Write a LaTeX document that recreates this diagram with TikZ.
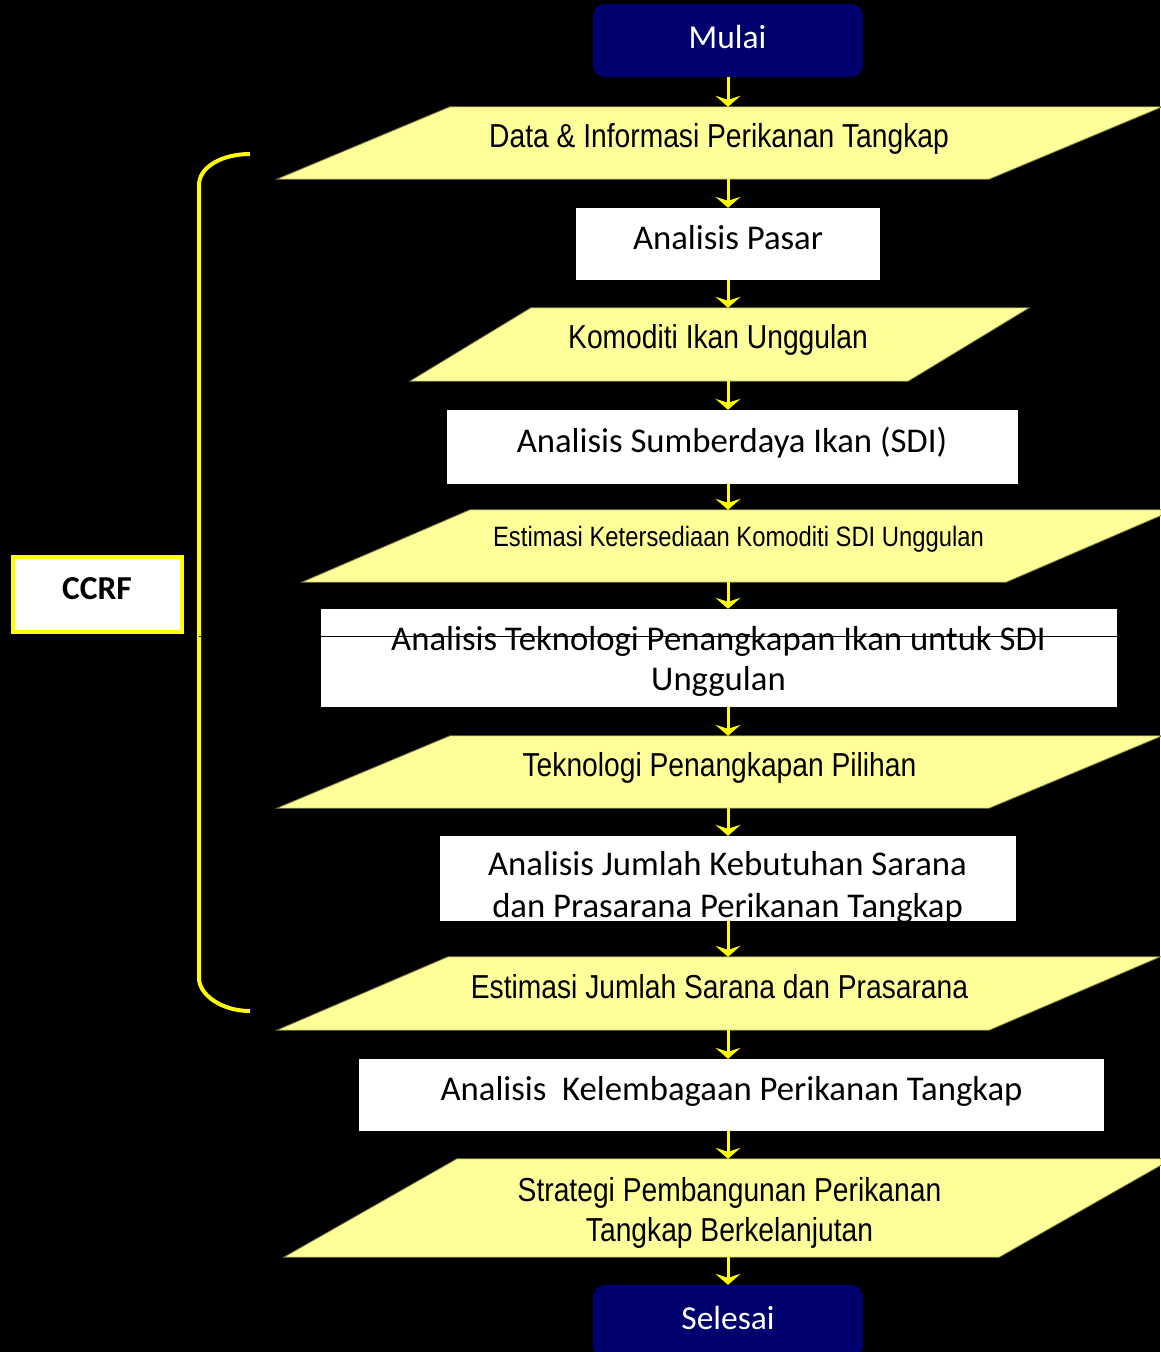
\documentclass[tikz,border=0pt]{standalone}
\usepackage{fontspec}
\setmainfont{Carlito}
\newfontfamily\narrowsans[FakeStretch=0.85]{Liberation Sans}
\usetikzlibrary{arrows.meta}
\definecolor{navyfill}{HTML}{00006E}
\definecolor{iofillc}{HTML}{FFFF99}
\definecolor{ioedge}{HTML}{7A7A40}
\definecolor{flowyellow}{HTML}{FFFF00}

% slanted fill for an input/output step: node name, slant in pt
\newcommand\iofillpath[2]{%
  \path[iofill] (#1.south west) -- ([xshift=-#2pt]#1.south east)
    -- (#1.north east) -- ([xshift=#2pt]#1.north west) -- cycle;}

\begin{document}
\begin{tikzpicture}[x=1pt,y=-1pt,
  terminal/.style={rectangle, rounded corners=12pt, fill=navyfill, inner sep=0pt},
  procbox/.style={rectangle, fill=white, inner sep=0pt},
  iobox/.style={rectangle, inner sep=0pt},
  iofill/.style={fill=iofillc, draw=ioedge, line width=0.8pt},
  lbl/.style={anchor=base, inner sep=0pt, text=black, font=\fontsize{34.7}{40}\selectfont},
  iolbl/.style={anchor=base, inner sep=0pt, text=black, font=\narrowsans\fontsize{33.2}{40}\selectfont},
  termlbl/.style={anchor=base, inner sep=0pt, text=white, font=\fontsize{33.5}{40}\selectfont},
  flow/.style={draw=flowyellow, line width=3pt, -{Stealth[length=11pt,width=25pt,inset=4pt]}},
]
\useasboundingbox (0,0) rectangle (1160,1352);
\fill[black] (0,0) rectangle (1160,1352);

% CCRF bracket
\coordinate (brtop) at (250,154);
\coordinate (brbot) at (250,1011);
\coordinate (brtap) at (199,636.5);
\draw[flowyellow, line width=4pt] (brtop) .. controls (222,154) and (199,167) .. (199,185)
  -- (199,978) .. controls (199,995) and (222,1011) .. (brbot);

\node[rectangle, fill=white, draw=flowyellow, line width=4pt, inner sep=0pt,
  minimum width=169pt, minimum height=75pt] (ccrf) at (97.5,594.5) {};
\node[anchor=base, inner sep=0pt, font=\bfseries\fontsize{33.5}{40}\selectfont] (ccrft) at (97,599.3) {CCRF};

% flow steps
\node[terminal, minimum width=270pt, minimum height=73pt] (start) at (728,40.5) {};
\node[iobox, minimum width=885pt, minimum height=72pt] (p1) at (719.5,143) {};
\iofillpath{p1}{173}
\node[procbox, minimum width=304pt, minimum height=72pt] (pasar) at (728,244) {};
\node[iobox, minimum width=619pt, minimum height=73pt] (p2) at (719.5,344.5) {};
\iofillpath{p2}{121}
\node[procbox, minimum width=571pt, minimum height=74pt] (sdi) at (732.5,447) {};
\node[iobox, minimum width=872pt, minimum height=72pt] (p3) at (738,546) {};
\iofillpath{p3}{168}
\node[procbox, minimum width=796pt, minimum height=98pt] (tek) at (719,658) {};
\node[iobox, minimum width=885pt, minimum height=72pt] (p4) at (719.5,772) {};
\iofillpath{p4}{173}
\node[procbox, minimum width=576pt, minimum height=85pt] (sarana) at (728,878.5) {};
\node[iobox, minimum width=883pt, minimum height=73pt] (p5) at (718.5,993.5) {};
\iofillpath{p5}{171}
\node[procbox, minimum width=745pt, minimum height=72pt] (lembaga) at (731.5,1095) {};
\node[iobox, minimum width=888pt, minimum height=98pt] (p6) at (728,1208) {};
\iofillpath{p6}{173}
\node[terminal, minimum width=270pt, minimum height=73pt] (stop) at (728,1321.5) {};

% link from the bracket
\draw[black, line width=1.3pt] (brtap) -- (brtap -| tek.east);

% connectors
\coordinate (ax) at (728,0);
\draw[flow] (start.south -| ax) -- (p1.north -| ax);
\draw[flow] (p1.south -| ax) -- (pasar.north -| ax);
\draw[flow] (pasar.south -| ax) -- (p2.north -| ax);
\draw[flow] (p2.south -| ax) -- (sdi.north -| ax);
\draw[flow] (sdi.south -| ax) -- (p3.north -| ax);
\draw[flow] (p3.south -| ax) -- (tek.north -| ax);
\draw[flow] (tek.south -| ax) -- (p4.north -| ax);
\draw[flow] (p4.south -| ax) -- (sarana.north -| ax);
\draw[flow] (sarana.south -| ax) -- (p5.north -| ax);
\draw[flow] (p5.south -| ax) -- (lembaga.north -| ax);
\draw[flow] (lembaga.south -| ax) -- (p6.north -| ax);
\draw[flow] (p6.south -| ax) -- (stop.north -| ax);

% labels
\node[termlbl] (startt) at (727.5,48) {Mulai};
\node[iolbl] (p1t) at (719,147.8) {Data \& Informasi Perikanan Tangkap};
\node[lbl] (pasart) at (728,249) {Analisis Pasar};
\node[iolbl] (p2t) at (718,348) {Komoditi Ikan Unggulan};
\node[lbl] (sdit) at (732,452) {Analisis Sumberdaya Ikan (SDI)};
\node[iolbl, font=\narrowsans\fontsize{28}{34}\selectfont] (p3t) at (738.5,546.7)
  {Estimasi Ketersediaan Komoditi SDI Unggulan};
\node[lbl] (tekt) at (718.5,650)
  {\begin{tabular}[t]{@{}c@{}}Analisis Teknologi Penangkapan Ikan untuk SDI\\Unggulan\end{tabular}};
\node[iolbl] (p4t) at (719.5,776.8) {Teknologi Penangkapan Pilihan};
\node[lbl, font=\fontsize{34.7}{42}\selectfont] (sarant) at (727.5,875)
  {\begin{tabular}[t]{@{}c@{}}Analisis Jumlah Kebutuhan Sarana\\dan Prasarana Perikanan Tangkap\end{tabular}};
\node[iolbl] (p5t) at (719.5,998.3) {Estimasi Jumlah Sarana dan Prasarana};
\node[lbl] (lembagat) at (731.5,1100) {Analisis\ \ Kelembagaan Perikanan Tangkap};
\node[iolbl] (p6t) at (729.5,1201)
  {\begin{tabular}[t]{@{}c@{}}Strategi Pembangunan Perikanan\\Tangkap Berkelanjutan\end{tabular}};
\node[termlbl] (stopt) at (728,1329) {Selesai};
\end{tikzpicture}
\end{document}
